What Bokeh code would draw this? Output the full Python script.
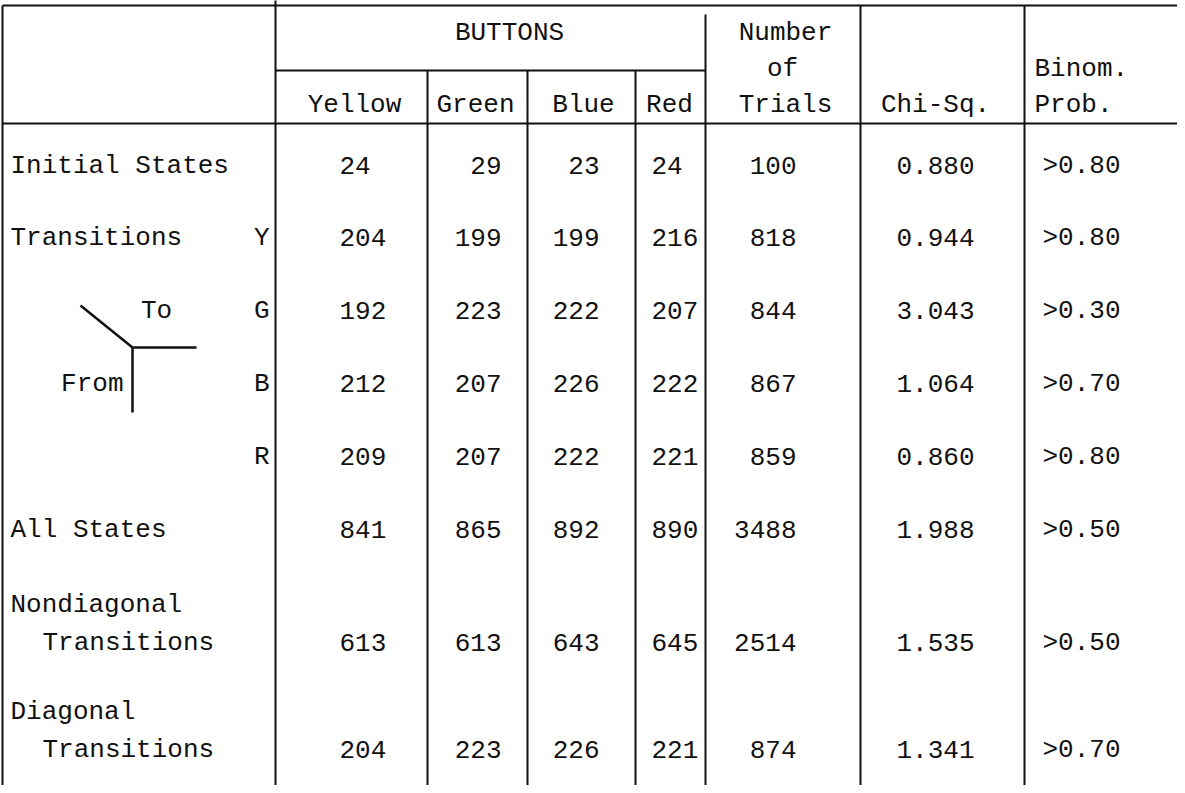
from bokeh.plotting import figure
from bokeh.models import Range1d
from bokeh.embed import file_html
from bokeh.resources import INLINE
from bokeh.core.properties import value

# ---------------- data ----------------
row_labels = ["Initial States", "Transitions", "", "", "", "All States",
              "Nondiagonal|Transitions", "Diagonal|Transitions"]
from_labels = ["", "Y", "G", "B", "R", "", "", ""]
yellow = [24, 204, 192, 212, 209, 841, 613, 204]
green = [29, 199, 223, 207, 207, 865, 613, 223]
blue = [23, 199, 222, 226, 222, 892, 643, 226]
red = [24, 216, 207, 222, 221, 890, 645, 221]
trials = [100, 818, 844, 867, 859, 3488, 2514, 874]
chi_sq = ["0.880", "0.944", "3.043", "1.064", "0.860", "1.988", "1.535", "1.341"]
binom = [">0.80", ">0.80", ">0.30", ">0.70", ">0.80", ">0.50", ">0.50", ">0.70"]
group_header = "BUTTONS"
button_headers = ["Yellow", "Green", "Blue", "Red"]
trials_header = ["Number", "of", "Trials"]
chi_header = "Chi-Sq."
binom_header = ["Binom.", "Prob."]
diagram_labels = ["To", "From"]

# ---------------- layout (pixel space of the page) ----------------
W, H = 1177, 785
FONT = value("Liberation Mono")
FS = "26px"
INK = "#111111"

row_y = [173, 245, 318, 391, 464, 537, 650, 757]
second_line_gap = 38
label_x, indent_x = 18, 50

p = figure(width=W, height=H, x_range=Range1d(8, 8 + W), y_range=Range1d(8 + H, 8),
           output_backend="svg", toolbar_location=None, min_border=0,
           x_axis_location=None, y_axis_location=None)
p.xgrid.grid_line_color = None
p.ygrid.grid_line_color = None
p.outline_line_color = None
p.background_fill_color = "white"
p.border_fill_color = "white"

# rules
x_left, x_label, x_green, x_blue, x_red, x_num, x_chi, x_binom, x_right = 10, 283, 435, 535, 643, 713, 868, 1032, 1185
y_top, y_mid, y_head = 13, 78, 131
y_bot = 793
segs = [
    (x_left, y_top, x_right, y_top),
    (x_label, y_mid, x_num, y_mid),
    (x_left, y_head, x_right, y_head),
    (x_left, y_top, x_left, y_bot),
    (x_label, 0, x_label, y_bot),
    (x_green, y_mid, x_green, y_bot),
    (x_blue, y_mid, x_blue, y_bot),
    (x_red, y_mid, x_red, y_bot),
    (x_num, 22, x_num, y_bot),
    (x_chi, y_top, x_chi, y_bot),
    (x_binom, y_top, x_binom, y_bot),
]
p.segment(x0=[s[0] for s in segs], y0=[s[1] for s in segs],
          x1=[s[2] for s in segs], y1=[s[3] for s in segs],
          line_color=INK, line_width=2)

# To / From diagram
p.segment(x0=[88, 140, 140], y0=[313, 355, 355], x1=[140, 204, 140], y1=[355, 355, 420],
          line_color=INK, line_width=2.5)


def txt(xs, ys, texts, align):
    p.text(x=xs, y=ys, text=texts, text_font=FONT, text_font_size=FS,
           text_align=align, text_baseline="middle", text_color=INK)


# headers
y_h1, y_h2, y_h3 = 40, 76, 112
txt([517], [y_h1], [group_header], "center")
txt([362, 483, 591, 677], [y_h3] * 4, button_headers, "center")
txt([793, 790, 793], [y_h1, y_h2, y_h3], trials_header, "center")
txt([943], [y_h3], [chi_header], "center")
txt([1042, 1042], [y_h2, y_h3], binom_header, "left")

# row labels
lab_x, lab_y, lab_t = [], [], []
for lbl, y in zip(row_labels, row_y):
    if not lbl:
        continue
    parts = lbl.split("|")
    if len(parts) == 1:
        lab_x.append(label_x); lab_y.append(y); lab_t.append(parts[0])
    else:
        lab_x += [label_x, indent_x]
        lab_y += [y - second_line_gap, y]
        lab_t += [parts[0], parts[1]]
txt(lab_x, lab_y, lab_t, "left")

fx = [277 for f in from_labels if f]
fy = [y for f, y in zip(from_labels, row_y) if f]
txt(fx, fy, [f for f in from_labels if f], "right")
txt([164], [row_y[2]], [diagram_labels[0]], "center")
txt([131], [row_y[3]], [diagram_labels[1]], "right")

# values
txt([347] * 8, row_y, [str(v) for v in yellow], "left")
txt([509] * 8, row_y, [str(v) for v in green], "right")
txt([607] * 8, row_y, [str(v) for v in blue], "right")
txt([659] * 8, row_y, [str(v) for v in red], "left")
txt([804] * 8, row_y, [str(v) for v in trials], "right")
txt([904] * 8, row_y, chi_sq, "left")
txt([1050] * 8, row_y, binom, "left")

open("out.html", "w").write(file_html(p, INLINE))
